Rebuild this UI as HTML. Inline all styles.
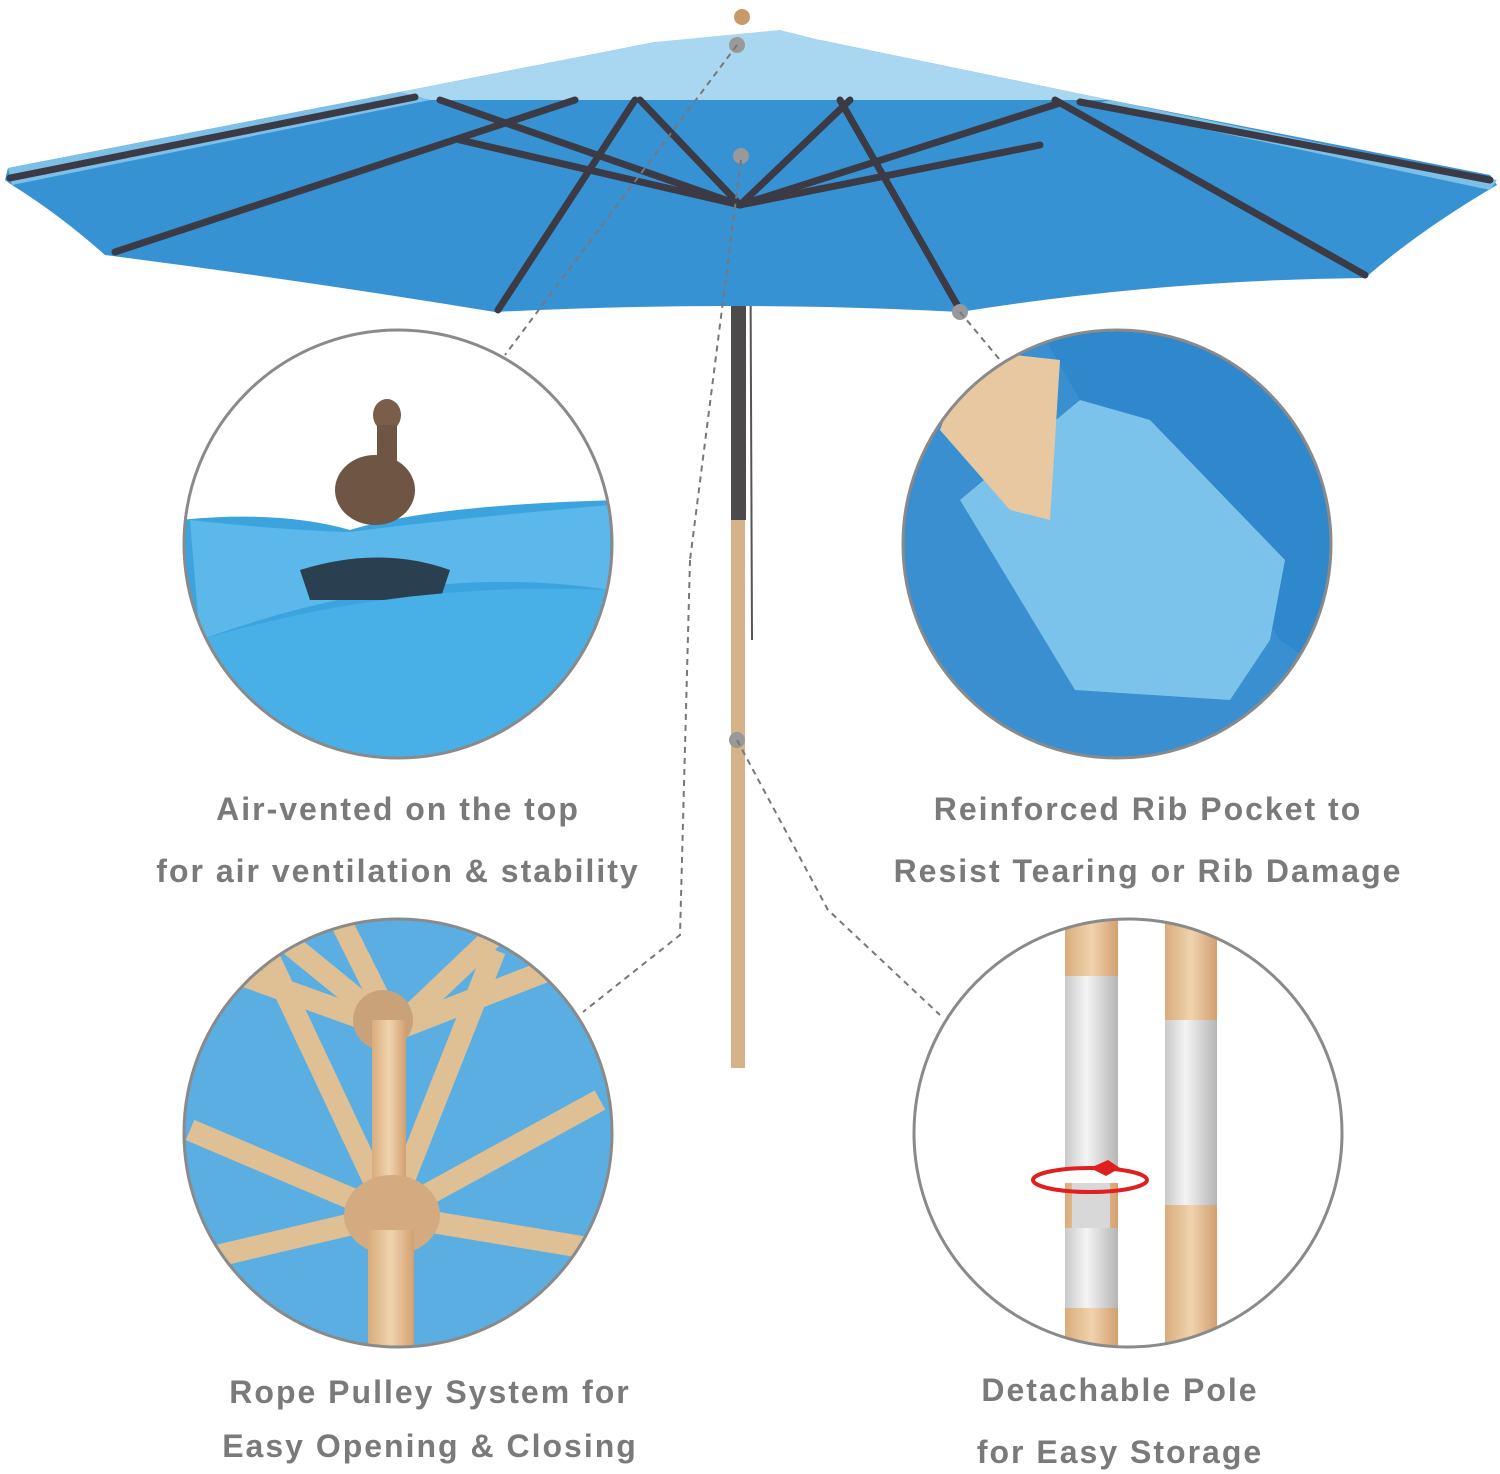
<!DOCTYPE html>
<html><head><meta charset="utf-8"><style>
html,body{margin:0;padding:0;background:#fff;}
svg{display:block}
text{font-family:"Liberation Sans",sans-serif;font-weight:bold;fill:#7a7a7a;font-size:32px;text-anchor:middle;letter-spacing:2px}
</style></head><body>
<svg width="1500" height="1474" viewBox="0 0 1500 1474" xmlns="http://www.w3.org/2000/svg">
<defs>
<linearGradient id="wood" x1="0" x2="1"><stop offset="0" stop-color="#d9ac7c"/><stop offset="0.5" stop-color="#f0d3ae"/><stop offset="1" stop-color="#d2a070"/></linearGradient>
<linearGradient id="metal" x1="0" x2="1"><stop offset="0" stop-color="#c9c9c9"/><stop offset="0.4" stop-color="#f4f4f4"/><stop offset="1" stop-color="#b5b5b5"/></linearGradient>
<clipPath id="c1"><circle cx="398" cy="544" r="214"/></clipPath>
<clipPath id="c2"><circle cx="1117" cy="544" r="214"/></clipPath>
<clipPath id="c3"><circle cx="398" cy="1133" r="214"/></clipPath>
<clipPath id="c4"><circle cx="1128" cy="1133" r="214"/></clipPath>
</defs>

<rect x="731" y="500" width="14" height="568" fill="#d5b28a"/>
<rect x="731" y="100" width="15" height="420" fill="#4d4a4c"/>
<line x1="750" y1="150" x2="752" y2="640" stroke="#555" stroke-width="2"/>
<path d="M655,42 L400,92 L8,168 L5,180 L12,185 Q60,215 105,255 Q300,280 495,312 Q730,300 960,312 Q1160,280 1365,278 Q1420,230 1497,185 L1490,175 L1110,100 L820,40 Z" fill="#3692d3"/>
<path d="M655,42 L400,92 L430,100 L1110,100 L820,40 L780,30 Z" fill="#a9d6f0"/>
<path d="M8,168 L400,92 L430,100 L12,185 Z" fill="#7cc0e8"/>
<path d="M1110,100 L1497,180 L1490,190 L1090,105 Z" fill="#7cc0e8"/>
<circle cx="742" cy="17" r="8" fill="#c89a6a"/>
<g stroke="#3b3a45" stroke-width="7" stroke-linecap="round" fill="none">
<line x1="415" y1="97" x2="10" y2="178"/>
<line x1="575" y1="100" x2="115" y2="252"/>
<line x1="635" y1="100" x2="498" y2="310"/>
<line x1="840" y1="100" x2="960" y2="310"/>
<line x1="1055" y1="100" x2="1365" y2="275"/>
<line x1="1080" y1="102" x2="1490" y2="180"/>
<line x1="740" y1="205" x2="440" y2="100"/>
<line x1="740" y1="205" x2="460" y2="140"/>
<line x1="740" y1="205" x2="640" y2="100"/>
<line x1="740" y1="205" x2="850" y2="100"/>
<line x1="740" y1="205" x2="1040" y2="145"/>
<line x1="740" y1="205" x2="1060" y2="103"/>
</g>
<g fill="#999"><circle cx="737" cy="45" r="8"/><circle cx="741" cy="156" r="8"/><circle cx="960" cy="312" r="8"/><circle cx="737" cy="740" r="8"/></g>
<g stroke="#777" stroke-width="2" stroke-dasharray="6,5" fill="none">
<line x1="737" y1="45" x2="505" y2="355"/>
<line x1="741" y1="160" x2="690" y2="560"/>
<polyline points="690,560 680,935 583,1012"/>
<line x1="960" y1="312" x2="1000" y2="360"/>
<polyline points="737,740 828,910 940,1015"/>
</g>

<g clip-path="url(#c1)">
<rect x="180" y="320" width="440" height="450" fill="#fff"/>
<path d="M180,520 Q280,510 350,530 Q430,505 620,500 L620,780 L180,780 Z" fill="#3ba4de"/>
<path d="M190,520 Q280,530 350,532 Q440,520 610,505 L610,590 Q420,560 200,640 Z" fill="#5cb8ea"/>
<path d="M300,570 Q380,545 450,570 L440,600 L310,600 Z" fill="#2a4050"/>
<path d="M200,640 Q400,580 610,590 L610,780 L180,780 Z" fill="#48b0e6"/>
<ellipse cx="375" cy="490" rx="40" ry="35" fill="#6e5544"/>
<ellipse cx="387" cy="415" rx="14" ry="16" fill="#7a5e4a"/>
<rect x="377" y="425" width="20" height="40" fill="#6e5544"/>
</g>
<circle cx="398" cy="544" r="214" fill="none" stroke="#8a8a8a" stroke-width="3"/>

<g clip-path="url(#c2)">
<rect x="895" y="320" width="450" height="450" fill="#3a8fd0"/>
<path d="M1040,330 L1340,330 L1340,680 L1280,640 L1230,560 L1150,420 L1080,400 Z" fill="#2f87cc"/>
<path d="M960,500 L1080,400 L1150,420 L1285,560 L1270,640 L1230,700 L1075,690 Z" fill="#7cc3ec"/>
<path d="M970,350 L1060,360 L1050,520 L1010,510 L940,430 Z" fill="#e8c8a0"/>
</g>
<circle cx="1117" cy="544" r="214" fill="none" stroke="#8a8a8a" stroke-width="3"/>

<g clip-path="url(#c3)">
<rect x="180" y="910" width="440" height="450" fill="#5aaee2"/>
<g stroke="#dfbf94" stroke-width="22" stroke-linecap="butt">
<line x1="395" y1="1030" x2="260" y2="920"/>
<line x1="395" y1="1030" x2="340" y2="920"/>
<line x1="395" y1="1030" x2="500" y2="930"/>
<line x1="395" y1="1030" x2="600" y2="950"/>
<line x1="395" y1="1030" x2="200" y2="960"/>
<line x1="390" y1="1215" x2="190" y2="1130"/>
<line x1="390" y1="1215" x2="600" y2="1100"/>
<line x1="390" y1="1215" x2="200" y2="1260"/>
<line x1="390" y1="1215" x2="600" y2="1250"/>
<line x1="390" y1="1215" x2="270" y2="960"/>
<line x1="390" y1="1215" x2="495" y2="950"/>
</g>
<circle cx="383" cy="1020" r="30" fill="#c9a27a"/>
<rect x="372" y="1020" width="34" height="340" fill="url(#wood)"/>
<ellipse cx="392" cy="1215" rx="48" ry="40" fill="#d4aa80"/>
<rect x="368" y="1230" width="46" height="130" fill="url(#wood)"/>
</g>
<circle cx="398" cy="1133" r="214" fill="none" stroke="#8a8a8a" stroke-width="3"/>

<g clip-path="url(#c4)">
<rect x="910" y="915" width="440" height="440" fill="#fff"/>
<rect x="1065" y="915" width="53" height="440" fill="url(#wood)"/>
<rect x="1165" y="915" width="52" height="440" fill="url(#wood)"/>
<rect x="1065" y="976" width="53" height="192" fill="url(#metal)"/>
<rect x="1065" y="1168" width="53" height="15" fill="#fff"/>
<rect x="1072" y="1183" width="38" height="45" fill="#d8d8d8"/>
<rect x="1065" y="1228" width="53" height="80" fill="url(#metal)"/>
<rect x="1165" y="1020" width="52" height="185" fill="url(#metal)"/>
<ellipse cx="1090" cy="1180" rx="57" ry="12" fill="none" stroke="#e02020" stroke-width="4"/>
<path d="M1090,1168 L1108,1160 L1120,1168 L1106,1176 Z" fill="#e02020"/>
</g>
<circle cx="1128" cy="1133" r="214" fill="none" stroke="#8a8a8a" stroke-width="3"/>

<text x="398" y="820">Air-vented on the top</text>
<text x="398" y="882">for air ventilation &amp; stability</text>
<text x="1148" y="820">Reinforced Rib Pocket to</text>
<text x="1148" y="882">Resist Tearing or Rib Damage</text>
<text x="430" y="1403">Rope Pulley System for</text>
<text x="430" y="1457">Easy Opening &amp; Closing</text>
<text x="1120" y="1401">Detachable Pole</text>
<text x="1120" y="1463">for Easy Storage</text>
</svg>
</body></html>
